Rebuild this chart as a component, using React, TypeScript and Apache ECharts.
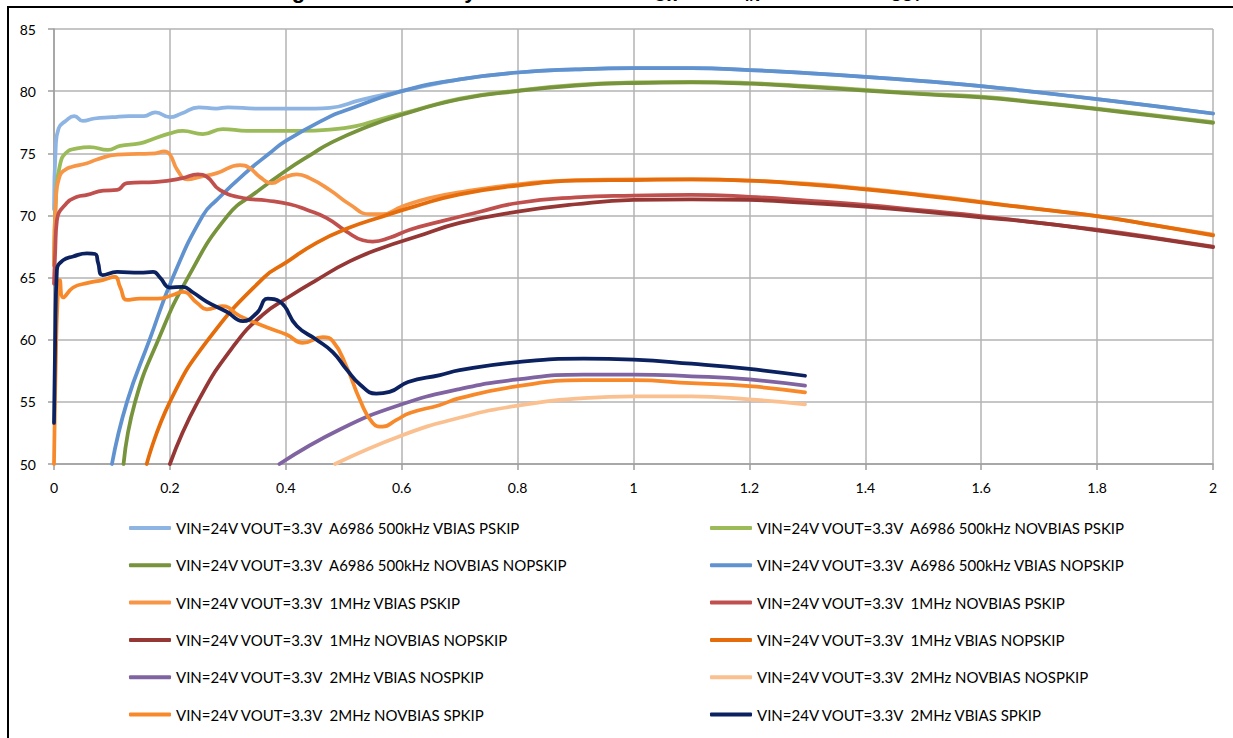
import React, { useEffect, useRef } from "react";
import * as echarts from "echarts";

type Pt = [number, number];

// Load current (x) vs efficiency (y) for each measured configuration
const S500_VBIAS_PSKIP: Pt[] = [
  [0, 70.5], [0.003, 75.5], [0.008, 77.0], [0.02, 77.6], [0.035, 78.0], [0.05, 77.6], [0.07, 77.8],
  [0.1, 77.9], [0.13, 78.0], [0.155, 78.0], [0.175, 78.3], [0.2, 77.9], [0.22, 78.2], [0.25, 78.7],
  [0.28, 78.6], [0.3, 78.7], [0.35, 78.6], [0.45, 78.6], [0.476, 78.65], [0.53, 79.3], [0.6, 80.0],
  [0.7, 80.95], [0.8, 81.5], [0.9, 81.75], [1.0, 81.85], [1.1, 81.85], [1.2, 81.7], [1.3, 81.45],
  [1.4, 81.15], [1.5, 80.8], [1.6, 80.4], [1.7, 79.9], [1.8, 79.35], [1.9, 78.8], [2.0, 78.2],
];
const S500_NOVBIAS_PSKIP: Pt[] = [
  [0, 66], [0.004, 72], [0.01, 74], [0.02, 75.0], [0.04, 75.4], [0.062, 75.5], [0.093, 75.27],
  [0.114, 75.6], [0.148, 75.8], [0.171, 76.15], [0.2, 76.6], [0.222, 76.8], [0.257, 76.55],
  [0.291, 76.95], [0.333, 76.8], [0.424, 76.8], [0.476, 76.9], [0.6, 78.2], [0.7, 79.4], [0.8, 80.05],
  [0.9, 80.5], [1.0, 80.7], [1.1, 80.75], [1.2, 80.65], [1.3, 80.4], [1.4, 80.1], [1.5, 79.8],
  [1.6, 79.55], [1.7, 79.1], [1.8, 78.6], [1.9, 78.05], [2.0, 77.5],
];
const S500_NOVBIAS_NOPSKIP: Pt[] = [
  [0.12, 50], [0.14, 55], [0.18, 60], [0.231, 65], [0.3, 70], [0.35, 71.9], [0.4, 73.6], [0.447, 75.0],
  [0.476, 75.8], [0.533, 77.0], [0.6, 78.1], [0.7, 79.35], [0.8, 80.0], [0.9, 80.45], [1.0, 80.65],
  [1.1, 80.7], [1.2, 80.6], [1.3, 80.35], [1.4, 80.05], [1.5, 79.75], [1.6, 79.5], [1.7, 79.05],
  [1.8, 78.55], [1.9, 78.0], [2.0, 77.45],
];
const S500_VBIAS_NOPSKIP: Pt[] = [
  [0.1, 50], [0.126, 55], [0.165, 60], [0.205, 65], [0.257, 70], [0.281, 71.25], [0.33, 73.4],
  [0.372, 75.0], [0.4, 76.0], [0.476, 77.95], [0.5, 78.4], [0.6, 80.0], [0.7, 80.95], [0.8, 81.5],
  [0.9, 81.75], [1.0, 81.85], [1.1, 81.85], [1.2, 81.7], [1.3, 81.45], [1.4, 81.15], [1.5, 80.8],
  [1.6, 80.4], [1.7, 79.9], [1.8, 79.35], [1.9, 78.8], [2.0, 78.2],
];
const S1M_VBIAS_PSKIP: Pt[] = [
  [0, 66], [0.003, 71], [0.01, 73.2], [0.02, 73.7], [0.03, 73.9], [0.057, 74.2], [0.074, 74.5],
  [0.109, 74.9], [0.145, 74.95], [0.175, 75.0], [0.19, 75.15], [0.2, 74.9], [0.213, 73.65],
  [0.23, 72.9], [0.252, 73.1], [0.281, 73.4], [0.321, 74.05], [0.338, 73.8], [0.355, 73.1],
  [0.376, 72.6], [0.395, 73.0], [0.419, 73.3], [0.441, 73.0], [0.476, 72.05], [0.51, 70.9],
  [0.545, 70.1], [0.567, 70.1], [0.6, 70.7], [0.648, 71.4], [0.705, 71.9], [0.8, 72.5], [0.9, 72.85],
  [1.0, 72.9], [1.1, 72.9], [1.2, 72.8], [1.3, 72.55], [1.4, 72.15], [1.5, 71.65], [1.6, 71.1],
  [1.7, 70.5], [1.8, 69.95], [1.9, 69.2], [2.0, 68.45],
];
const S1M_NOVBIAS_PSKIP: Pt[] = [
  [0, 64.5], [0.002, 67], [0.005, 69.6], [0.022, 71.0], [0.04, 71.5], [0.057, 71.65], [0.085, 72.0],
  [0.109, 72.05], [0.126, 72.6], [0.178, 72.7], [0.222, 73.0], [0.248, 73.3], [0.264, 73.1],
  [0.286, 72.05], [0.326, 71.4], [0.367, 71.2], [0.407, 70.9], [0.436, 70.45], [0.47, 69.8],
  [0.505, 68.7], [0.533, 68.0], [0.55, 67.9], [0.579, 68.2], [0.614, 68.85], [0.666, 69.5],
  [0.735, 70.3], [0.8, 71.0], [0.9, 71.45], [1.0, 71.6], [1.1, 71.65], [1.2, 71.5], [1.3, 71.2],
  [1.4, 70.85], [1.5, 70.4], [1.6, 69.95], [1.7, 69.4], [1.8, 68.85], [1.9, 68.2], [2.0, 67.5],
];
const S1M_NOVBIAS_NOPSKIP: Pt[] = [
  [0.2, 50], [0.248, 55], [0.31, 59.5], [0.36, 62.0], [0.407, 63.5], [0.453, 64.8], [0.51, 66.3],
  [0.567, 67.4], [0.626, 68.3], [0.7, 69.4], [0.8, 70.3], [0.9, 70.9], [1.0, 71.25], [1.1, 71.3],
  [1.2, 71.25], [1.3, 71.0], [1.4, 70.7], [1.5, 70.3], [1.6, 69.85], [1.7, 69.4], [1.8, 68.8],
  [1.9, 68.15], [2.0, 67.45],
];
const S1M_VBIAS_NOPSKIP: Pt[] = [
  [0.16, 50], [0.2, 55], [0.266, 60], [0.362, 65], [0.4, 66.2], [0.453, 67.8], [0.509, 69.0],
  [0.566, 69.9], [0.624, 70.75], [0.7, 71.7], [0.8, 72.4], [0.9, 72.8], [1.0, 72.85], [1.1, 72.9],
  [1.2, 72.8], [1.3, 72.5], [1.4, 72.1], [1.5, 71.6], [1.6, 71.05], [1.7, 70.5], [1.8, 69.95],
  [1.9, 69.2], [2.0, 68.4],
];
const S2M_VBIAS_NOSKIP: Pt[] = [
  [0.389, 50], [0.494, 52.8], [0.6, 54.8], [0.697, 56.0], [0.8, 56.8], [0.914, 57.2], [1.0, 57.2],
  [1.1, 57.06], [1.2, 56.8], [1.296, 56.3],
];
const S2M_NOVBIAS_NOSKIP: Pt[] = [
  [0.485, 50], [0.6, 52.3], [0.698, 53.7], [0.8, 54.7], [0.914, 55.3], [1.0, 55.45], [1.1, 55.45],
  [1.2, 55.2], [1.296, 54.8],
];
const S2M_NOVBIAS_SKIP: Pt[] = [
  [0, 50], [0.001, 53], [0.003, 58], [0.006, 63], [0.01, 64.8], [0.016, 63.4], [0.033, 64.2],
  [0.057, 64.55], [0.084, 64.8], [0.105, 65.05], [0.114, 64.25], [0.126, 63.2], [0.148, 63.3],
  [0.178, 63.3], [0.205, 63.6], [0.222, 63.85], [0.247, 62.95], [0.264, 62.45], [0.29, 62.7],
  [0.321, 61.9], [0.367, 61.0], [0.402, 60.4], [0.429, 59.75], [0.464, 60.2], [0.481, 59.9],
  [0.505, 57.8], [0.528, 55.15], [0.55, 53.3], [0.567, 53.0], [0.591, 53.55], [0.614, 54.1],
  [0.666, 54.75], [0.7, 55.3], [0.8, 56.26], [0.914, 56.74], [1.0, 56.74], [1.1, 56.5],
  [1.2, 56.26], [1.296, 55.77],
];
const S2M_VBIAS_SKIP: Pt[] = [
  [0, 53.3], [0.002, 60], [0.005, 65.6], [0.016, 66.4], [0.033, 66.7], [0.057, 66.95], [0.071, 66.9],
  [0.076, 66.2], [0.084, 65.2], [0.109, 65.45], [0.148, 65.4], [0.171, 65.45], [0.183, 65.0],
  [0.2, 64.2], [0.222, 64.25], [0.24, 63.8], [0.264, 63.05], [0.298, 62.25], [0.326, 61.5],
  [0.35, 62.15], [0.369, 63.3], [0.39, 63.05], [0.419, 61.1], [0.453, 60.0], [0.481, 59.0],
  [0.505, 57.6], [0.528, 56.4], [0.556, 55.67], [0.579, 55.8], [0.611, 56.6], [0.666, 57.15],
  [0.7, 57.55], [0.8, 58.2], [0.914, 58.48], [1.0, 58.4], [1.1, 58.07], [1.2, 57.65], [1.296, 57.1],
];

const SERIES_NAMES = [
  "VIN=24V VOUT=3.3V  A6986 500kHz VBIAS PSKIP",
  "VIN=24V VOUT=3.3V  A6986 500kHz NOVBIAS PSKIP",
  "VIN=24V VOUT=3.3V  A6986 500kHz NOVBIAS NOPSKIP",
  "VIN=24V VOUT=3.3V  A6986 500kHz VBIAS NOPSKIP",
  "VIN=24V VOUT=3.3V  1MHz VBIAS PSKIP",
  "VIN=24V VOUT=3.3V  1MHz NOVBIAS PSKIP",
  "VIN=24V VOUT=3.3V  1MHz NOVBIAS NOPSKIP",
  "VIN=24V VOUT=3.3V  1MHz VBIAS NOPSKIP",
  "VIN=24V VOUT=3.3V  2MHz VBIAS NOSPKIP",
  "VIN=24V VOUT=3.3V  2MHz NOVBIAS NOSPKIP",
  "VIN=24V VOUT=3.3V  2MHz NOVBIAS SPKIP",
  "VIN=24V VOUT=3.3V  2MHz VBIAS SPKIP",
];
const SERIES_COLORS = [
  "#8DB4E2", "#9BBB59", "#77933C", "#5F92CF",
  "#F79646", "#C0504D", "#953735", "#E46C0A",
  "#8064A2", "#FAC090", "#F7892A", "#0B2160",
];
const SERIES_DATA = [
  S500_VBIAS_PSKIP, S500_NOVBIAS_PSKIP, S500_NOVBIAS_NOPSKIP, S500_VBIAS_NOPSKIP,
  S1M_VBIAS_PSKIP, S1M_NOVBIAS_PSKIP, S1M_NOVBIAS_NOPSKIP, S1M_VBIAS_NOPSKIP,
  S2M_VBIAS_NOSKIP, S2M_NOVBIAS_NOSKIP, S2M_NOVBIAS_SKIP, S2M_VBIAS_SKIP,
];
const LEFT_LEGEND = SERIES_NAMES.filter((_, i) => i % 2 === 0);
const RIGHT_LEGEND = SERIES_NAMES.filter((_, i) => i % 2 === 1);

const FONT = "Lato, 'Noto Sans', sans-serif";

export default function App() {
  const ref = useRef<HTMLDivElement>(null);
  useEffect(() => {
    if (!ref.current) return;
    const chart = echarts.init(ref.current, undefined, { renderer: "svg" });
    const gridColor = "#B3B3B3";
    const legendBase = {
      orient: "vertical",
      top: 518,
      padding: 0,
      icon: "roundRect",
      itemWidth: 42,
      itemHeight: 4,
      itemGap: 17.3,
      selectedMode: false,
      textStyle: { fontFamily: FONT, fontSize: 15, color: "#000", lineHeight: 20 },
    };
    const titleFont = "'Liberation Sans', Arial, sans-serif";
    chart.setOption({
      animation: false,
      backgroundColor: "#fff",
      grid: { left: 54, right: 20, top: 29, bottom: 274, containLabel: false },
      xAxis: {
        type: "value",
        min: 0,
        max: 2,
        interval: 0.2,
        axisLine: { show: true, onZero: false, lineStyle: { color: "#9E9E9E", width: 1.5 } },
        axisTick: { show: true, length: 6, lineStyle: { color: "#9E9E9E", width: 1.5 } },
        axisLabel: { fontFamily: FONT, fontSize: 14, color: "#000", margin: 16 },
        splitLine: { show: true, lineStyle: { color: gridColor, width: 1.5 } },
      },
      yAxis: {
        type: "value",
        min: 50,
        max: 85,
        interval: 5,
        axisLine: { show: true, lineStyle: { color: "#9E9E9E", width: 1.5 } },
        axisTick: { show: true, length: 6, lineStyle: { color: "#9E9E9E", width: 1.5 } },
        axisLabel: { fontFamily: FONT, fontSize: 14, color: "#000", margin: 18 },
        splitLine: { show: true, lineStyle: { color: gridColor, width: 1.5 } },
      },
      legend: [
        { ...legendBase, left: 129, data: LEFT_LEGEND },
        { ...legendBase, left: 710, data: RIGHT_LEGEND },
      ],
      series: SERIES_DATA.map((data, i) => ({
        name: SERIES_NAMES[i],
        type: "line",
        data,
        symbol: "none",
        showSymbol: false,
        smooth: 0.5,
        z: 2 + i,
        lineStyle: { color: SERIES_COLORS[i], width: 3.75, cap: "round", join: "round" },
        itemStyle: { color: SERIES_COLORS[i] },
      })),
      graphic: [
        {
          type: "text",
          x: 628,
          y: -23,
          silent: true,
          style: {
            text: "{a|Regulator Efficiency Over Load with f}{s|SW}{a| and V}{s|IN}{a| = 24V and V}{s|OUT}{a| = 3.3V}",
            align: "center",
            verticalAlign: "top",
            rich: {
              a: { fontSize: 22, fontWeight: "bold", fontFamily: titleFont, lineHeight: 26, fill: "#000" },
              s: { fontSize: 15, fontWeight: "bold", fontFamily: titleFont, lineHeight: 15, verticalAlign: "bottom", fill: "#000" },
            },
          },
        },
        {
          type: "rect",
          silent: true,
          shape: { x: 8, y: 7, width: 1400, height: 1000 },
          style: { fill: "transparent", stroke: "#000", lineWidth: 2 },
        },
      ],
    });
    return () => chart.dispose();
  }, []);
  return <div ref={ref} style={{ position: "fixed", left: 0, top: 0, width: 1233, height: 738 }} />;
}
